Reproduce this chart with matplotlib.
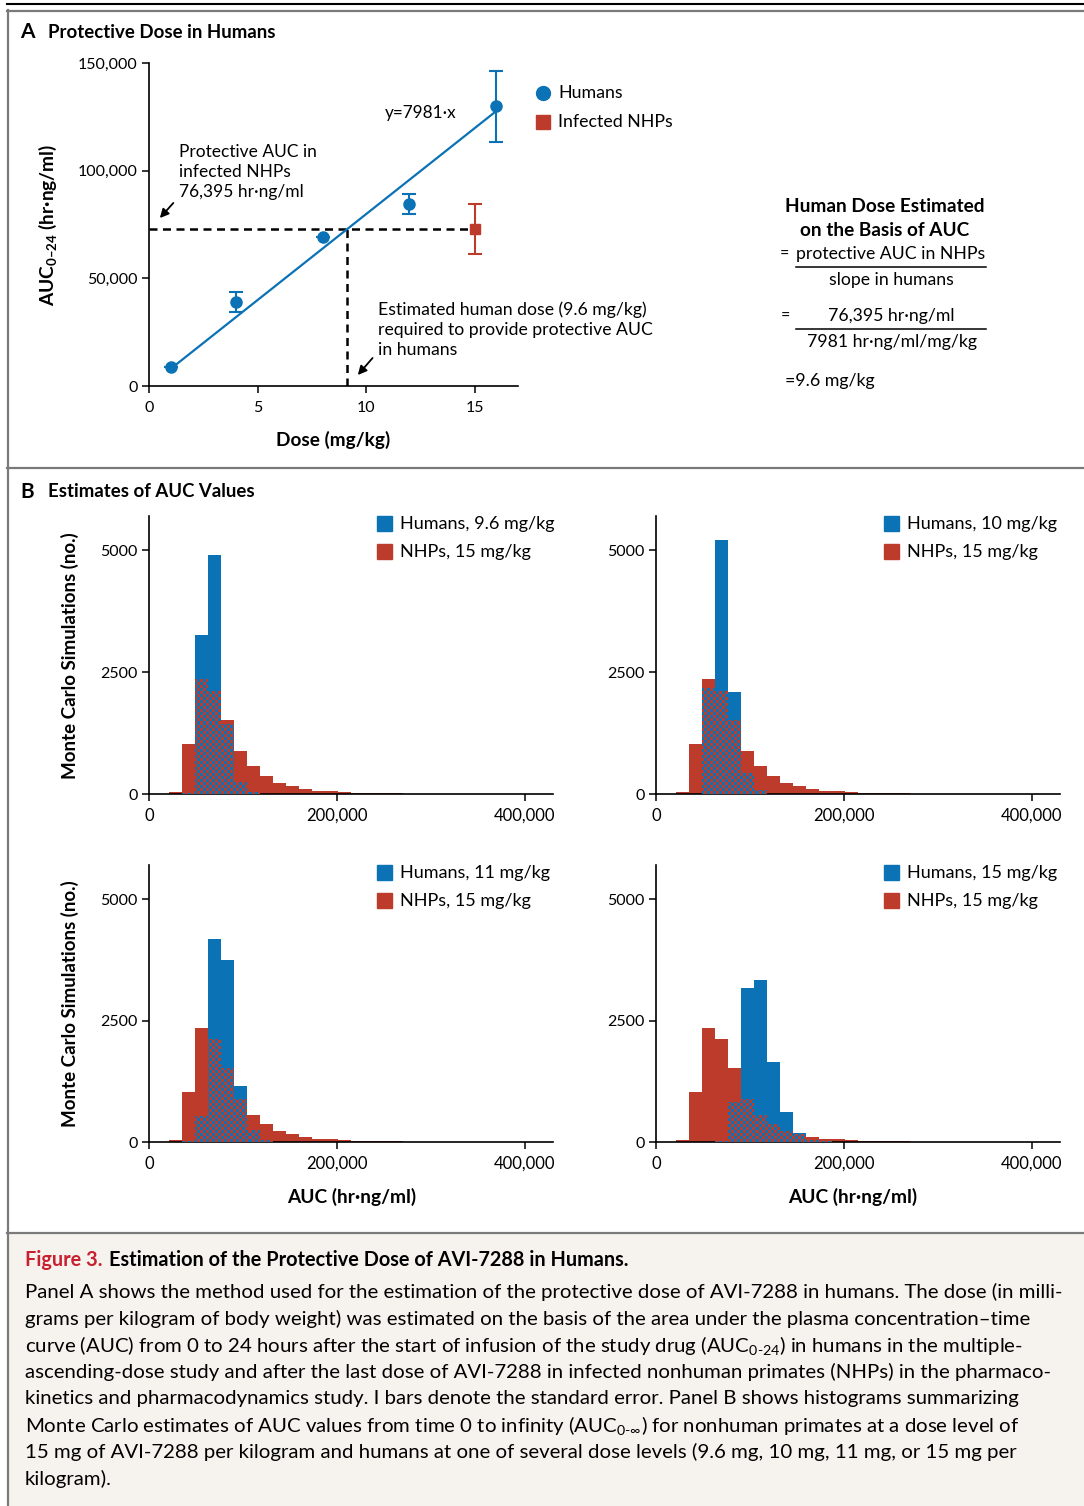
import numpy as np
import matplotlib
matplotlib.use("Agg")
import matplotlib.pyplot as plt
from matplotlib.lines import Line2D
from matplotlib.patches import Rectangle, PathPatch
from matplotlib.path import Path
from matplotlib.colors import ListedColormap

plt.rcParams['font.family'] = ['Lato', 'DejaVu Sans']
plt.rcParams['mathtext.fontset'] = 'custom'
plt.rcParams['mathtext.rm'] = 'Lato'
plt.rcParams['mathtext.bf'] = 'Lato:bold'
plt.rcParams['mathtext.it'] = 'Lato:italic'

BLUE = '#0a72b5'
RED = '#bd3b2b'

# --- Panel A data ---
human_dose = [1, 4, 8, 12, 16]
human_auc = [8800, 39000, 69200, 84500, 130000]
human_err = [0, 4600, 0, 4600, 16500]
nhp_dose = [15]
nhp_auc = [72900]
nhp_err = [11400]
slope = 7981
est_dose = nhp_auc[0] / slope

# --- Panel B data (histogram counts per bin) ---
bin_start = 21300
bin_width = 13830
nhp_counts = [50, 1020, 2355, 2120, 1525, 890, 565, 370, 228, 164, 95, 60, 60, 35, 30, 20, 30, 15, 10, 10, 5]
human_counts = {
    '9.6': [0, 20, 3260, 4900, 1440, 250, 40],
    '10': [0, 0, 2180, 5200, 2090, 430, 80],
    '11': [0, 30, 540, 4180, 3750, 1147, 246, 40],
    '15': [0, 0, 0, 30, 820, 3176, 3340, 1640, 615, 184, 40, 20],
}
hist_labels = ['Humans, 9.6 mg/kg', 'Humans, 10 mg/kg', 'Humans, 11 mg/kg', 'Humans, 15 mg/kg']

W, H = 1084, 1506
fig = plt.figure(figsize=(W / 100, H / 100), dpi=100)


def fx(px):
    return px / W


def fy(py):
    return 1 - py / H


def box(l, t, r, b):
    return [fx(l), fy(b), fx(r) - fx(l), fy(t) - fy(b)]


# frame lines and caption background
fig.add_artist(Rectangle((fx(8), 0), 1, fy(1234), transform=fig.transFigure,
                         facecolor='#f6f3ee', edgecolor='none', zorder=0))
fig.add_artist(Line2D([fx(7), 1], [fy(4), fy(4)], color='black', lw=1.5))
fig.add_artist(Line2D([fx(7), 1], [fy(10.5), fy(10.5)], color='#7a7a7a', lw=1.6))
fig.add_artist(Line2D([fx(7.5), fx(7.5)], [fy(10), 0], color='#7a7a7a', lw=1.6))
fig.add_artist(Line2D([fx(7), 1], [fy(468), fy(468)], color='#7a7a7a', lw=1.6))
fig.add_artist(Line2D([fx(7), 1], [fy(1233), fy(1233)], color='#7a7a7a', lw=1.6))

# panel titles
fig.text(fx(20), fy(32), 'A', fontsize=15, fontweight='bold', va='center')
fig.text(fx(48), fy(32), 'Protective Dose in Humans', fontsize=13.4, fontweight='bold', va='center')
fig.text(fx(20), fy(492), 'B', fontsize=15, fontweight='bold', va='center')
fig.text(fx(48), fy(492), 'Estimates of AUC Values', fontsize=13.4, fontweight='bold', va='center')

# ---------------- Panel A ----------------
ax = fig.add_axes(box(149, 63, 518, 386))
ax.set_xlim(0, 17)
ax.set_ylim(0, 150000)
for s in ['top', 'right']:
    ax.spines[s].set_visible(False)
for s in ['left', 'bottom']:
    ax.spines[s].set_linewidth(1.2)
ax.set_xticks([0, 5, 10, 15])
ax.set_yticks([0, 50000, 100000, 150000])
ax.set_yticklabels(['0', '50,000', '100,000', '150,000'])
ax.tick_params(labelsize=11.5, length=5, width=1.1, direction='out', pad=3)
ax.tick_params(axis='x', pad=6)

xs = np.array([human_dose[0], human_dose[-1]])
ax.plot(xs, slope * xs, color=BLUE, lw=1.6, zorder=3)
ax.errorbar(human_dose, human_auc, yerr=human_err, fmt='o', color=BLUE, ms=8,
            capsize=5, elinewidth=1.5, capthick=1.5, zorder=4)
ax.errorbar(nhp_dose, nhp_auc, yerr=nhp_err, fmt='s', color=RED, ms=7.5,
            capsize=5, elinewidth=1.5, capthick=1.5, zorder=4)
ax.plot([0, nhp_dose[0]], [nhp_auc[0], nhp_auc[0]], color='black', lw=1.8,
        dashes=(3.2, 2.2), zorder=2)
ax.plot([est_dose, est_dose], [0, nhp_auc[0]], color='black', lw=1.8,
        dashes=(3.2, 2.2), zorder=2)

ax.text(10.85, 126800, 'y=7981·x', fontsize=12.3, va='center')
ax.text(1.4, 99400, 'Protective AUC in\ninfected NHPs\n76,395 hr·ng/ml', fontsize=12.5,
        va='center', linespacing=1.3)
ax.text(10.55, 26000, 'Estimated human dose (9.6 mg/kg)\nrequired to provide protective AUC\nin humans',
        fontsize=12.7, va='center', linespacing=1.3)
arrow = dict(arrowstyle='-|>', color='black', lw=1.3, mutation_scale=13, shrinkA=0, shrinkB=0)
ax.annotate('', xy=(0.5, 78000), xytext=(1.12, 85000), arrowprops=arrow)
ax.annotate('', xy=(9.62, 5100), xytext=(10.3, 13000), arrowprops=arrow)

fig.text(fx(48), fy(225), r'AUC$_{\mathbf{0–24}}$ (hr·ng/ml)', rotation=90, fontsize=13.8,
         fontweight='bold', ha='center', va='center')
fig.text(fx(333), fy(440), 'Dose (mg/kg)', fontsize=13.7, fontweight='bold', ha='center', va='center')

# panel A legend
fig.add_artist(Line2D([fx(543)], [fy(93)], marker='o', color=BLUE, ms=10, transform=fig.transFigure))
fig.add_artist(Rectangle((fx(536), fy(129)), fx(14), 14 / H, color=RED, transform=fig.transFigure))
fig.text(fx(558), fy(93), 'Humans', fontsize=12.8, va='center')
fig.text(fx(558), fy(122), 'Infected NHPs', fontsize=12.8, va='center')

# formula block
fig.text(fx(885), fy(207), 'Human Dose Estimated', fontsize=13.7, fontweight='bold', ha='center', va='center')
fig.text(fx(885), fy(230), 'on the Basis of AUC', fontsize=13.7, fontweight='bold', ha='center', va='center')
fig.text(fx(780), fy(255), '=', fontsize=11.5, va='center')
fig.text(fx(891), fy(254), 'protective AUC in NHPs', fontsize=12.7, ha='center', va='center')
fig.add_artist(Line2D([fx(796), fx(986)], [fy(267), fy(267)], color='black', lw=1.1))
fig.text(fx(891), fy(280), 'slope in humans', fontsize=12.7, ha='center', va='center')
fig.text(fx(781), fy(317), '=', fontsize=11.5, va='center')
fig.text(fx(891), fy(316), '76,395 hr·ng/ml', fontsize=12.7, ha='center', va='center')
fig.add_artist(Line2D([fx(796), fx(986)], [fy(329), fy(329)], color='black', lw=1.1))
fig.text(fx(892), fy(342), '7981 hr·ng/ml/mg/kg', fontsize=12.7, ha='center', va='center')
fig.text(fx(785), fy(381), '=9.6 mg/kg', fontsize=12.8, va='center')

# ---------------- Panel B ----------------
cmap = ListedColormap([RED, BLUE])
XMAX, YMAX = 430000, 5700
hist_boxes = [(149, 516, 553, 794), (656, 516, 1060, 794),
              (149, 865, 553, 1142), (656, 865, 1060, 1142)]
keys = ['9.6', '10', '11', '15']

for i, (bx, key, lab) in enumerate(zip(hist_boxes, keys, hist_labels)):
    a = fig.add_axes(box(*bx))
    hum = np.array(human_counts[key] + [0] * (len(nhp_counts) - len(human_counts[key])))
    nhp = np.array(nhp_counts)
    lefts = bin_start + bin_width * np.arange(len(nhp))
    a.bar(lefts, nhp, width=bin_width, align='edge', color=RED, lw=0, zorder=2)
    a.bar(lefts, hum, width=bin_width, align='edge', color=BLUE, lw=0, zorder=3)

    # checkered overlap
    ov = np.minimum(hum, nhp)
    verts, codes = [], []
    for l, h in zip(lefts, ov):
        if h <= 0:
            continue
        verts += [(l, 0), (l + bin_width, 0), (l + bin_width, h), (l, h), (l, 0)]
        codes += [Path.MOVETO, Path.LINETO, Path.LINETO, Path.LINETO, Path.CLOSEPOLY]
    pw, ph = bx[2] - bx[0], bx[3] - bx[1]
    nx, ny = int(pw / 3), int(ph / 3)
    chk = (np.add.outer(np.arange(ny), np.arange(nx)) % 2).astype(float)
    im = a.imshow(chk, cmap=cmap, extent=(0, XMAX, 0, YMAX), origin='lower',
                  aspect='auto', interpolation='nearest', zorder=4)
    clip = PathPatch(Path(verts, codes), transform=a.transData, facecolor='none', edgecolor='none')
    im.set_clip_path(clip)

    a.set_xlim(0, XMAX)
    a.set_ylim(0, YMAX)
    for s in ['top', 'right']:
        a.spines[s].set_visible(False)
    for s in ['left', 'bottom']:
        a.spines[s].set_linewidth(1.2)
    a.set_xticks([0, 200000, 400000])
    a.set_xticklabels(['0', '200,000', '400,000'])
    a.set_yticks([0, 2500, 5000])
    a.tick_params(labelsize=11.5, length=5, width=1.1, direction='out', pad=3)
    a.tick_params(axis='x', labelsize=12, pad=5)

    # legend
    lx = bx[0] + 228
    ly = bx[1] + 8
    fig.add_artist(Rectangle((fx(lx), fy(ly + 7)), fx(15), 15 / H, color=BLUE, transform=fig.transFigure))
    fig.add_artist(Rectangle((fx(lx), fy(ly + 35)), fx(15), 15 / H, color=RED, transform=fig.transFigure))
    fig.text(fx(lx + 23), fy(ly), lab, fontsize=13, va='center')
    fig.text(fx(lx + 23), fy(ly + 28), 'NHPs, 15 mg/kg', fontsize=13, va='center')

for yc in [656, 1004]:
    fig.text(fx(70), fy(yc), 'Monte Carlo Simulations (no.)', rotation=90, fontsize=13.5,
             fontweight='bold', ha='center', va='center')
for xc in [352, 853]:
    fig.text(fx(xc), fy(1197), 'AUC (hr·ng/ml)', fontsize=13.8, fontweight='bold', ha='center', va='center')

# ---------------- Caption ----------------
fig.text(fx(25), fy(1260), 'Figure 3.', fontsize=14.3, fontweight='bold', color='#c8202f', va='center')
fig.text(fx(109), fy(1260), 'Estimation of the Protective Dose of AVI-7288 in Humans.', fontsize=14.3,
         fontweight='bold', va='center')
caption_lines = [
    'Panel A shows the method used for the estimation of the protective dose of AVI-7288 in humans. The dose (in milli-',
    'grams per kilogram of body weight) was estimated on the basis of the area under the plasma concentration\u2013time',
    r'curve (AUC) from 0 to 24 hours after the start of infusion of the study drug (AUC$_{\mathrm{0\text{-}24}}$) in humans in the multiple-',
    'ascending-dose study and after the last dose of AVI-7288 in infected nonhuman primates (NHPs) in the pharmaco-',
    'kinetics and pharmacodynamics study. I bars denote the standard error. Panel B shows histograms summarizing',
    r'Monte Carlo estimates of AUC values from time 0 to infinity (AUC$_{\mathrm{0\text{-}\infty}}$) for nonhuman primates at a dose level of',
    '15 mg of AVI-7288 per kilogram and humans at one of several dose levels (9.6 mg, 10 mg, 11 mg, or 15 mg per',
    'kilogram).',
]
for k, line in enumerate(caption_lines):
    fig.text(fx(25), fy(1292 + 26.7 * k), line, fontsize=14.7, va='center')

fig.savefig('out.png', dpi=100)
